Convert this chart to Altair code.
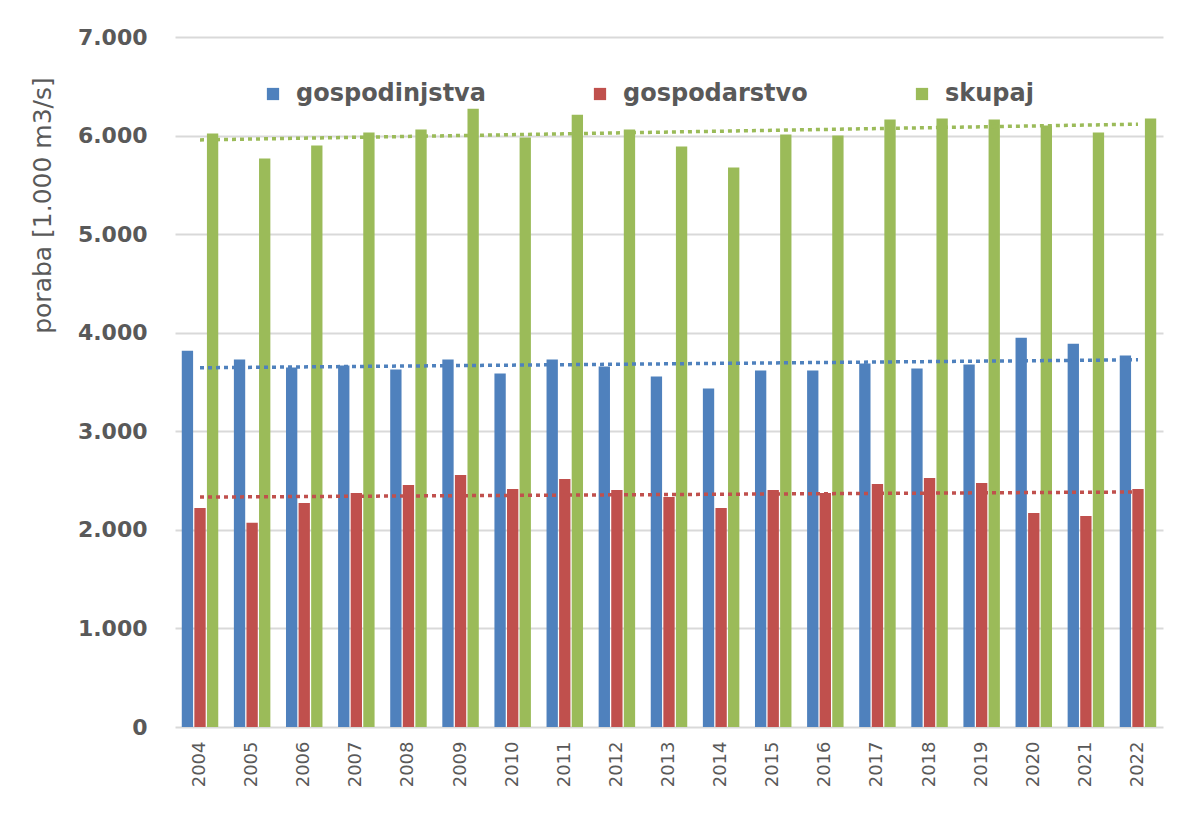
import altair as alt
import pandas as pd

years = [2004, 2005, 2006, 2007, 2008, 2009, 2010, 2011, 2012, 2013,
         2014, 2015, 2016, 2017, 2018, 2019, 2020, 2021, 2022]
gospodinjstva = [3818, 3727, 3646, 3667, 3626, 3727, 3586, 3727, 3656, 3556,
                 3434, 3616, 3616, 3687, 3636, 3677, 3949, 3889, 3768]
gospodarstvo = [2222, 2071, 2273, 2374, 2455, 2556, 2414, 2515, 2404, 2333,
                2222, 2404, 2374, 2465, 2525, 2475, 2172, 2141, 2414]
skupaj = [6020, 5768, 5899, 6030, 6061, 6273, 5980, 6212, 6061, 5889,
          5677, 6010, 6000, 6162, 6172, 6162, 6101, 6030, 6172]

series_names = ["gospodinjstva", "gospodarstvo", "skupaj"]
series_colors = ["#4F81BD", "#C0504D", "#9BBB59"]
y_ticks = [0, 1000, 2000, 3000, 4000, 5000, 6000, 7000]

rows = []
for name, vals in zip(series_names, [gospodinjstva, gospodarstvo, skupaj]):
    for yr, v in zip(years, vals):
        rows.append({"year": yr, "series": name, "value": v})
df = pd.DataFrame(rows)

FONT = "DejaVu Sans"
GRAY = "#595959"

x_enc = alt.X("year:O", title=None,
              scale=alt.Scale(paddingInner=0.30, paddingOuter=0.13),
              axis=alt.Axis(labelAngle=-90, labelFontSize=18, labelColor=GRAY,
                            labelFont=FONT, labelPadding=14, ticks=False,
                            domain=False, labelBaseline="middle", labelAlign="right"))
y_enc = alt.Y("value:Q", title="poraba [1.000 m3/s]",
              scale=alt.Scale(domain=[0, 7000], nice=False),
              axis=alt.Axis(values=y_ticks, grid=True, gridColor="#D9D9D9", gridWidth=2,
                            ticks=False, domain=False, labelFontSize=22, labelFont=FONT,
                            labelFontWeight="bold", labelColor=GRAY, labelPadding=28,
                            labelExpr="replace(format(datum.value, ',d'), ',', '.')",
                            titleFont=FONT, titleFontSize=25, titleFontWeight="normal",
                            titleColor=GRAY, titleAngle=270, titleX=-133, titleY=168,
                            titleAlign="center", titleBaseline="middle"))
color_scale = alt.Scale(domain=series_names, range=series_colors)

bars = alt.Chart(df).mark_bar().encode(
    x=x_enc,
    y=y_enc,
    xOffset=alt.XOffset("series:N", scale=alt.Scale(domain=series_names, paddingInner=0.1)),
    color=alt.Color("series:N", scale=color_scale, title=None,
                    legend=alt.Legend(orient="none", legendX=86, legendY=45,
                                      direction="horizontal", symbolType="square",
                                      symbolSize=150, symbolStrokeWidth=0,
                                      labelFontSize=24, labelFont=FONT, labelLimit=0,
                                      labelFontWeight="bold", labelColor=GRAY,
                                      columnPadding=102, labelOffset=11)),
)

trend = alt.Chart(df).transform_regression(
    "year", "value", groupby=["series"], extent=[2004, 2022], method="linear"
).mark_line(strokeDash=[4, 4], strokeWidth=3.5, strokeCap="butt").encode(
    x=alt.X("year:O"),
    y=alt.Y("value:Q"),
    color=alt.Color("series:N", scale=color_scale, legend=None),
)

chart = alt.layer(bars, trend).properties(
    width=988, height=690,
    autosize=alt.AutoSizeParams(type="none"),
    padding={"left": 175, "top": 37, "right": 25, "bottom": 100},
    background="white",
).configure_view(stroke=None)

chart.save("out.html", embed_options={"renderer": "svg", "actions": False})
